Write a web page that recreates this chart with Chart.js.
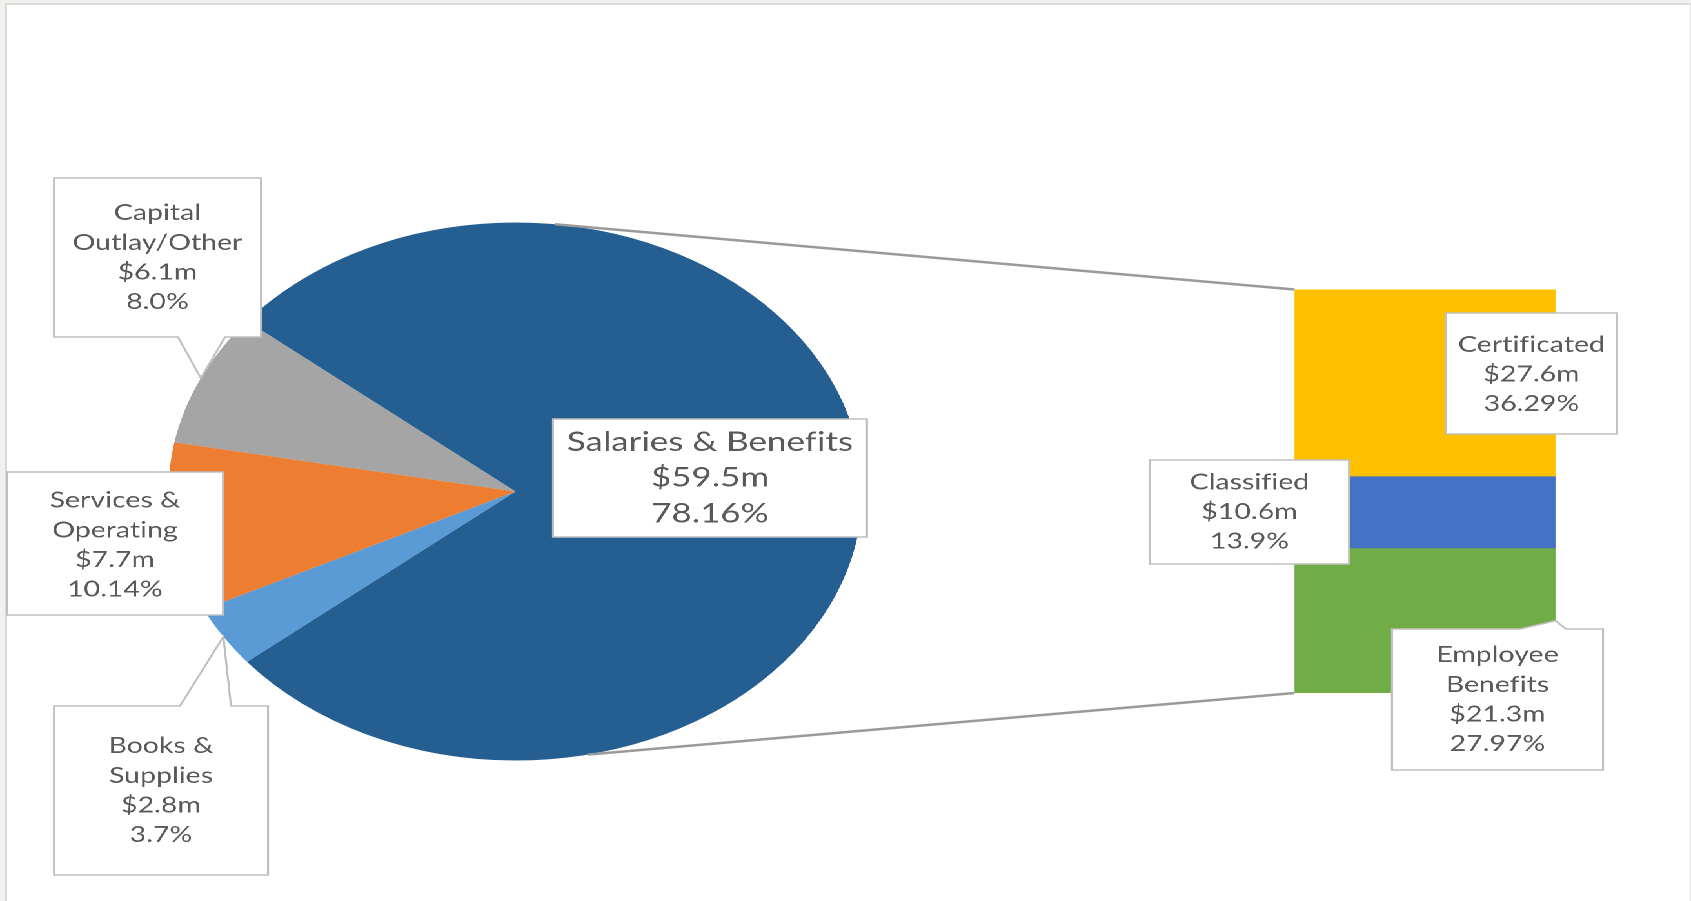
<!DOCTYPE html>
<html><head><meta charset="utf-8">
<script src="https://cdn.jsdelivr.net/npm/chart.js@4.4.1/dist/chart.umd.min.js"></script>
<style>
html,body{margin:0;padding:0;width:1691px;height:901px;overflow:hidden;background:#F1F0EC;}
#frame{position:absolute;left:5px;top:3px;width:1683px;height:898px;background:#fff;border-left:2px solid #D9D9D9;border-top:2px solid #DCDCDC;border-right:1px solid #E4E4E4;}
#stage{position:absolute;left:0;top:0;width:1311px;height:901px;transform:scaleX(1.28986);transform-origin:0 0;}
.layer{position:absolute;left:0;top:0;width:1311px;height:901px;}
</style></head>
<body>
<div id="frame"></div>
<div id="stage">
  <div class="layer"><canvas id="pie"></canvas></div>
  <div class="layer"><canvas id="bar"></canvas></div>
</div>
<script>
// ---------- data ----------
const pieCategories = ['Salaries & Benefits', 'Books & Supplies', 'Services & Operating', 'Capital Outlay/Other'];
const pieNameLines = [['Salaries & Benefits'], ['Books &', 'Supplies'], ['Services &', 'Operating'], ['Capital', 'Outlay/Other']];
const pieAmounts = [59.5, 2.8, 7.7, 6.1];
const piePercents = [78.16, 3.7, 10.14, 8.0];
const piePercentText = ['78.16%', '3.7%', '10.14%', '8.0%'];
const pieColors = ['#255E91', '#5B9BD5', '#ED7D31', '#A5A5A5'];

const barCategories = ['Employee Benefits', 'Classified', 'Certificated'];
const barNameLines = [['Employee', 'Benefits'], ['Classified'], ['Certificated']];
const barAmounts = [21.3, 10.6, 27.6];
const barPercentText = ['27.97%', '13.9%', '36.29%'];
const barColors = ['#70AD47', '#4472C4', '#FFC000'];

// ---------- layout (page pixels; x is divided by K for the stretched stage) ----------
const W = 1311, H = 901, K = 1691 / 1311;
const PIE_CX = 515.5 / K, PIE_CY = 491.5, PIE_R = 269;
const BAR_L = 1294.5 / K, BAR_R = 1555.5 / K, BAR_T = 289.5, BAR_B = 693;
const TEXT_COLOR = '#595959', BOX_BORDER = '#BFBFBF', LINE_COLOR = '#9A9A9A';
const FONT = 'Lato, "Open Sans", sans-serif';

const pieLabelBoxes = [
  {box: [553, 419, 867, 537], size: 27, lh: 35.8},
  {box: [54, 706, 268, 875], size: 22, lh: 29.6, wedge: {side: 'top', a: 180, b: 231}},
  {box: [7, 472, 223, 615], size: 22, lh: 29.6, dy: 1.5},
  {box: [54, 178, 261, 337], size: 22, lh: 29.6, wedge: {side: 'bottom', a: 178, b: 225}}
];
const barLabelBoxes = [
  {box: [1392, 629, 1603, 770], size: 22, lh: 29.6, wedge: {side: 'top', a: 1520, b: 1566}},
  {box: [1150, 460, 1349, 564], size: 22, lh: 29.6},
  {box: [1446, 313, 1617, 434], size: 22, lh: 29.6, dy: 1}
];

function fmtAmount(v) { return '$' + v.toFixed(1) + 'm'; }

function drawCallout(ctx, spec, lines, tip) {
  const x0 = spec.box[0] / K, y0 = spec.box[1], x1 = spec.box[2] / K, y1 = spec.box[3];
  const w = spec.wedge;
  ctx.save();
  ctx.beginPath();
  ctx.moveTo(x0, y0);
  if (w && w.side === 'top' && tip) {
    ctx.lineTo(w.a / K, y0); ctx.lineTo(tip.x, tip.y); ctx.lineTo(w.b / K, y0);
  }
  ctx.lineTo(x1, y0);
  ctx.lineTo(x1, y1);
  if (w && w.side === 'bottom' && tip) {
    ctx.lineTo(w.b / K, y1); ctx.lineTo(tip.x, tip.y); ctx.lineTo(w.a / K, y1);
  }
  ctx.lineTo(x0, y1);
  ctx.closePath();
  ctx.fillStyle = '#fff';
  ctx.fill();
  ctx.strokeStyle = BOX_BORDER;
  ctx.lineWidth = 1.6;
  ctx.lineJoin = 'miter';
  ctx.stroke();
  ctx.fillStyle = TEXT_COLOR;
  ctx.font = spec.size + 'px ' + FONT;
  if ('letterSpacing' in ctx) ctx.letterSpacing = '0.05px';
  ctx.textAlign = 'center';
  ctx.textBaseline = 'middle';
  const cx = (x0 + x1) / 2, cy = (y0 + y1) / 2 + (spec.dy || 0);
  lines.forEach((t, i) => ctx.fillText(t, cx, cy + (i - (lines.length - 1) / 2) * spec.lh));
  ctx.restore();
}

const pieLabelPlugin = {
  id: 'pieLabels',
  afterDraw(chart) {
    const ctx = chart.ctx;
    const meta = chart.getDatasetMeta(0);
    meta.data.forEach((el, i) => {
      const p = el.getProps(['x', 'y', 'startAngle', 'endAngle', 'outerRadius'], true);
      const mid = (p.startAngle + p.endAngle) / 2;
      const tip = {x: p.x + p.outerRadius * Math.cos(mid), y: p.y + p.outerRadius * Math.sin(mid)};
      const lines = pieNameLines[i].concat([fmtAmount(pieAmounts[i]), piePercentText[i]]);
      drawCallout(ctx, pieLabelBoxes[i], lines, tip);
    });
  }
};

const pieChart = new Chart(document.getElementById('pie'), {
  type: 'pie',
  data: {
    labels: pieCategories,
    datasets: [{data: piePercents, backgroundColor: pieColors, borderWidth: 0, hoverOffset: 0}]
  },
  options: {
    responsive: true, maintainAspectRatio: false, animation: false, devicePixelRatio: 2, events: [],
    rotation: 90 - piePercents[0] * 1.8,
    layout: {padding: {left: PIE_CX - PIE_R, top: PIE_CY - PIE_R, right: W - (PIE_CX + PIE_R), bottom: H - (PIE_CY + PIE_R)}},
    plugins: {legend: {display: false}, tooltip: {enabled: false}}
  },
  plugins: [pieLabelPlugin]
});

const barLabelPlugin = {
  id: 'barLabels',
  afterDraw(chart) {
    const ctx = chart.ctx;
    // series lines from the pie to the bar
    const pm = pieChart.getDatasetMeta(0).data[0].getProps(['x', 'y', 'outerRadius'], true);
    const topEl = chart.getDatasetMeta(barCategories.length - 1).data[0].getProps(['x', 'y', 'width', 'base'], true);
    const botEl = chart.getDatasetMeta(0).data[0].getProps(['x', 'y', 'width', 'base'], true);
    const aTop = (-90 + 6.5) * Math.PI / 180, aBot = (90 - 12) * Math.PI / 180;
    ctx.save();
    ctx.strokeStyle = LINE_COLOR;
    ctx.lineWidth = 2.6;
    ctx.beginPath();
    ctx.moveTo(pm.x + pm.outerRadius * Math.cos(aTop), pm.y + pm.outerRadius * Math.sin(aTop));
    ctx.lineTo(topEl.x - topEl.width / 2, topEl.y);
    ctx.moveTo(pm.x + pm.outerRadius * Math.cos(aBot), pm.y + pm.outerRadius * Math.sin(aBot));
    ctx.lineTo(botEl.x - botEl.width / 2, botEl.base);
    ctx.stroke();
    ctx.restore();
    // labels
    barCategories.forEach((c, i) => {
      const p = chart.getDatasetMeta(i).data[0].getProps(['x', 'y', 'width', 'base'], true);
      const tip = {x: p.x + p.width / 2, y: (p.y + p.base) / 2};
      const lines = barNameLines[i].concat([fmtAmount(barAmounts[i]), barPercentText[i]]);
      drawCallout(ctx, barLabelBoxes[i], lines, tip);
    });
  }
};

new Chart(document.getElementById('bar'), {
  type: 'bar',
  data: {
    labels: [pieCategories[0]],
    datasets: barCategories.map((c, i) => ({
      label: c, data: [barAmounts[i]], backgroundColor: barColors[i], borderWidth: 0,
      barPercentage: 1, categoryPercentage: 1
    }))
  },
  options: {
    responsive: true, maintainAspectRatio: false, animation: false, devicePixelRatio: 2, events: [],
    layout: {padding: {left: BAR_L, right: W - BAR_R, top: BAR_T, bottom: H - BAR_B}},
    scales: {
      x: {display: false, stacked: true},
      y: {display: false, stacked: true, min: 0, max: barAmounts.reduce((s, v) => s + v, 0)}
    },
    plugins: {legend: {display: false}, tooltip: {enabled: false}}
  },
  plugins: [barLabelPlugin]
});
</script>
</body></html>
